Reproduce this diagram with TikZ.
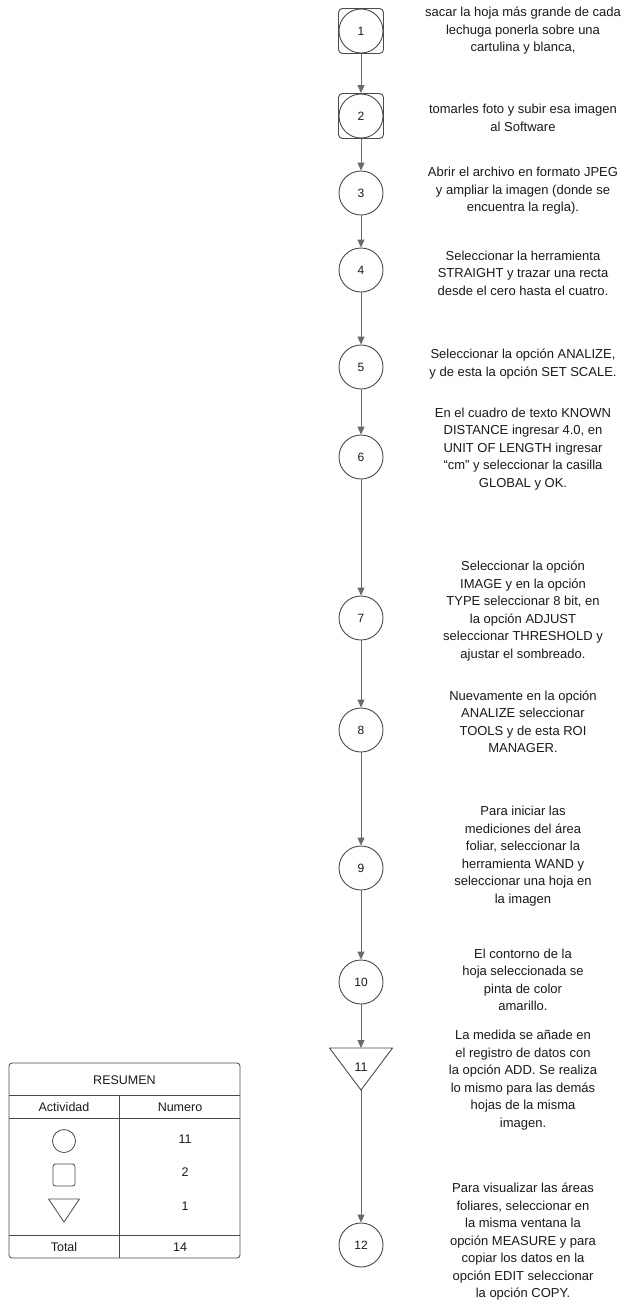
\documentclass[tikz,border=0pt]{standalone}
\usepackage{fontspec}
\setmainfont{Liberation Sans}
\usetikzlibrary{arrows.meta}
\definecolor{ln}{HTML}{4A4A4A}
\definecolor{arr}{HTML}{6A6A6A}
\definecolor{tx}{HTML}{1A1A1A}
\begin{document}
\begin{tikzpicture}[x=1pt,y=-1pt,
  circ/.style={circle,draw=ln,line width=0.9pt,minimum size=44pt,inner sep=0pt,text=tx,font=\fontsize{12}{14}\selectfont},
  sqbox/.style={rectangle,rounded corners=4pt,draw=ln,line width=0.9pt,minimum size=45pt,inner sep=0pt},
  desc/.style={align=center,text=tx,font=\fontsize{13}{17.5}\selectfont,inner sep=0pt},
  conn/.style={draw=arr,line width=1pt,-{Triangle[length=8pt,width=7pt]}},
  tbl/.style={draw=ln,line width=0.8pt},
  cell/.style={text=tx,font=\fontsize{12.5}{14}\selectfont,inner sep=0pt}]
\useasboundingbox (0,0) rectangle (634,1307);
\fill[white] (0,0) rectangle (634,1307);

% flow nodes
\node[sqbox] (s1) at (361,31) {};
\node[circ] (n1) at (361,31) {1};
\node[sqbox] (s2) at (361,116) {};
\node[circ] (n2) at (361,116) {2};
\node[circ] (n3) at (361,193) {3};
\node[circ] (n4) at (361,270) {4};
\node[circ] (n5) at (361,367) {5};
\node[circ] (n6) at (361,457) {6};
\node[circ] (n7) at (361,618) {7};
\node[circ] (n8) at (361,730) {8};
\node[circ] (n9) at (361,868) {9};
\node[circ] (n10) at (361,982) {10};
\draw[ln,line width=0.9pt,line join=round] (329.5,1048) -- (392.5,1048) -- (361,1090) -- cycle;
\coordinate (t11top) at (361,1048);
\coordinate (t11bot) at (361,1090);
\node[cell] (n11) at (361,1067) {11};
\node[circ] (n12) at (361,1245) {12};

% connectors
\draw[conn] (s1.south) -- (s2.north);
\draw[conn] (s2.south) -- (n3.north);
\draw[conn] (n3.south) -- (n4.north);
\draw[conn] (n4.south) -- (n5.north);
\draw[conn] (n5.south) -- (n6.north);
\draw[conn] (n6.south) -- (n7.north);
\draw[conn] (n7.south) -- (n8.north);
\draw[conn] (n8.south) -- (n9.north);
\draw[conn] (n9.south) -- (n10.north);
\draw[conn] (n10.south) -- (t11top);
\draw[conn] (t11bot) -- (n12.north);

% descriptions
\node[desc] (d1) at (523,31) {sacar la hoja más grande de cada\\lechuga ponerla sobre una\\cartulina y blanca,};
\node[desc] (d2) at (523,118) {tomarles foto y subir esa imagen\\al Software};
\node[desc] (d3) at (523,191) {Abrir el archivo en formato JPEG\\y ampliar la imagen (donde se\\encuentra la regla).};
\node[desc] (d4) at (523,273) {Seleccionar la herramienta\\STRAIGHT y trazar una recta\\desde el cero hasta el cuatro.};
\node[desc] (d5) at (523,364) {Seleccionar la opción ANALIZE,\\y de esta la opción SET SCALE.};
\node[desc] (d6) at (523,449) {En el cuadro de texto KNOWN\\DISTANCE ingresar 4.0, en\\UNIT OF LENGTH ingresar\\“cm” y seleccionar la casilla\\GLOBAL y OK.};
\node[desc] (d7) at (523,611) {Seleccionar la opción\\IMAGE y en la opción\\TYPE seleccionar 8 bit, en\\la opción ADJUST\\seleccionar THRESHOLD y\\ajustar el sombreado.};
\node[desc] (d8) at (523,722) {Nuevamente en la opción\\ANALIZE seleccionar\\TOOLS y de esta ROI\\MANAGER.};
\node[desc] (d9) at (523,856) {Para iniciar las\\mediciones del área\\foliar, seleccionar la\\herramienta WAND y\\seleccionar una hoja en\\la imagen};
\node[desc] (d10) at (523,980) {El contorno de la\\hoja seleccionada se\\pinta de color\\amarillo.};
\node[desc] (d11) at (523,1080) {La medida se añade en\\el registro de datos con\\la opción ADD. Se realiza\\lo mismo para las demás\\hojas de la misma\\imagen.};
\node[desc] (d12) at (523,1242) {Para visualizar las áreas\\foliares, seleccionar en\\la misma ventana la\\opción MEASURE y para\\copiar los datos en la\\opción EDIT seleccionar\\la opción COPY.};

% summary table
\draw[tbl,rounded corners=3pt] (9,1063) rectangle (240,1258);
\draw[tbl] (9,1095) -- (240,1095);
\draw[tbl] (9,1118) -- (240,1118);
\draw[tbl] (9,1235) -- (240,1235);
\draw[tbl] (119,1095) -- (119,1258);
\node[cell] (tres) at (124.5,1080) {RESUMEN};
\node[cell] (tact) at (64,1107) {Actividad};
\node[cell] (tnum) at (180,1107) {Numero};
\node[circle,draw=ln,line width=0.8pt,minimum size=23pt,inner sep=0pt] (tc) at (64,1141) {};
\node[rectangle,rounded corners=2.5pt,draw=ln,line width=0.8pt,minimum size=22pt,inner sep=0pt] (ts) at (64,1175) {};
\draw[ln,line width=0.8pt,line join=round] (48.5,1199) -- (79.5,1199) -- (64,1222) -- cycle;
\node[cell] (tn1) at (185,1139) {11};
\node[cell] (tn2) at (185,1172) {2};
\node[cell] (tn3) at (185,1206) {1};
\node[cell] (ttot) at (64,1247) {Total};
\node[cell] (tval) at (180,1247) {14};
\end{tikzpicture}
\end{document}
